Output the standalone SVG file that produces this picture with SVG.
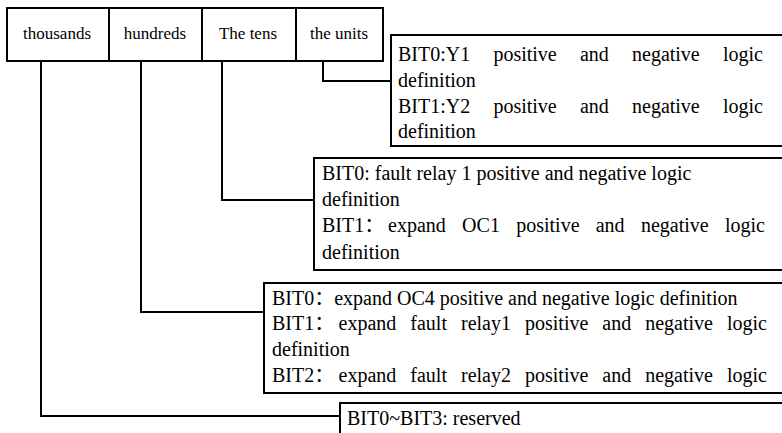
<svg xmlns="http://www.w3.org/2000/svg" width="782" height="433" viewBox="0 0 782 433">
<style>
.b{fill:#fff;stroke:#000;stroke-width:2}
.c{fill:none;stroke:#000;stroke-width:2}
.h{font-family:"Liberation Serif","Times New Roman","Noto Sans CJK SC",serif;font-size:17px;fill:#000;text-anchor:middle}
.t{font-family:"Liberation Serif","Times New Roman","Noto Sans CJK SC",serif;font-size:20px;fill:#000}
</style>
<rect width="782" height="433" fill="#fff"/>
<g id="connectors">
<polyline class="c" points="323,61 323,81 391,81"/>
<polyline class="c" points="222,61 222,200 314,200"/>
<polyline class="c" points="141,61 141,312 264,312"/>
<polyline class="c" points="41,61 41,416 340,416"/>
</g>
<g id="header">
<rect class="b" x="7" y="8" width="376" height="53"/>
<line class="c" x1="109" y1="8" x2="109" y2="61"/>
<line class="c" x1="202" y1="8" x2="202" y2="61"/>
<line class="c" x1="296" y1="8" x2="296" y2="61"/>
<text class="h" x="57" y="39">thousands</text>
<text class="h" x="155" y="39">hundreds</text>
<text class="h" x="248" y="39">The tens</text>
<text class="h" x="339" y="39">the units</text>
</g>
<g id="units-box">
<rect class="b" x="391" y="35" width="400" height="111"/>
<text class="t" y="61"><tspan x="398">BIT0:Y1</tspan><tspan x="493.4">positive</tspan><tspan x="579.9">and</tspan><tspan x="632">negative</tspan><tspan x="723">logic</tspan></text>
<text class="t" x="398" y="87">definition</text>
<text class="t" y="113"><tspan x="398">BIT1:Y2</tspan><tspan x="493.4">positive</tspan><tspan x="579.9">and</tspan><tspan x="632">negative</tspan><tspan x="723">logic</tspan></text>
<text class="t" x="398" y="138">definition</text>
</g>
<g id="tens-box">
<rect class="b" x="314" y="158" width="480" height="112"/>
<text class="t" x="322" y="180">BIT0: fault relay 1 positive and negative logic</text>
<text class="t" x="322" y="206">definition</text>
<text class="t" y="232"><tspan x="322">BIT1：</tspan><tspan x="388">expand</tspan><tspan x="462.1">OC1</tspan><tspan x="516.2">positive</tspan><tspan x="595.7">and</tspan><tspan x="640.9">negative</tspan><tspan x="725">logic</tspan></text>
<text class="t" x="322" y="259">definition</text>
</g>
<g id="hundreds-box">
<rect class="b" x="264" y="283" width="530" height="110"/>
<text class="t" x="272" y="305">BIT0：expand OC4 positive and negative logic definition</text>
<text class="t" y="330"><tspan x="272">BIT1：</tspan><tspan x="338.5">expand</tspan><tspan x="410.3">fault</tspan><tspan x="461">relay1</tspan><tspan x="525">positive</tspan><tspan x="602.3">and</tspan><tspan x="645.2">negative</tspan><tspan x="727">logic</tspan></text>
<text class="t" x="272" y="356">definition</text>
<text class="t" y="382"><tspan x="272">BIT2：</tspan><tspan x="338.5">expand</tspan><tspan x="410.3">fault</tspan><tspan x="461">relay2</tspan><tspan x="525">positive</tspan><tspan x="602.3">and</tspan><tspan x="645.2">negative</tspan><tspan x="727">logic</tspan></text>
</g>
<g id="thousands-box">
<rect class="b" x="340" y="403" width="460" height="50"/>
<text class="t" x="347" y="425">BIT0~BIT3: reserved</text>
</g>
</svg>
